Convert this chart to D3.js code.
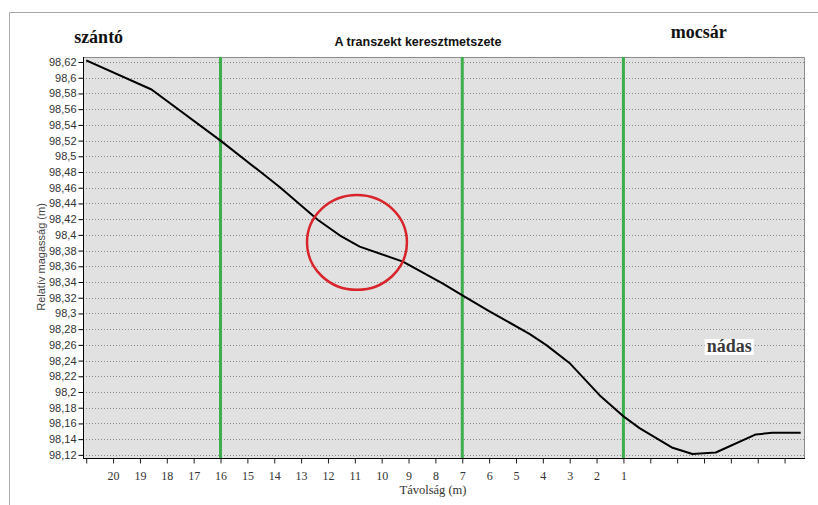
<!DOCTYPE html>
<html>
<head>
<meta charset="utf-8">
<script src="https://cdn.jsdelivr.net/npm/d3@7"></script>
<style>
  html, body { margin: 0; padding: 0; background: #fff; }
  svg { display: block; }
</style>
</head>
<body>
<svg id="chart" width="818" height="505"></svg>
<script>
// ---- Data ----
const distances = [21, 18.57, 16.0, 13.8, 12.37, 11.5, 10.82, 9.21, 7.72, 7.04, 6.05, 4.5, 3.88, 3.01, 1.89, 0.96, 0.4, -0.83, -1.57, -2.44, -3.93, -4.54, -5.6];
const heights   = [98.622, 98.585, 98.520, 98.461, 98.419, 98.398, 98.385, 98.366, 98.338, 98.324, 98.304, 98.274, 98.260, 98.237, 98.196, 98.168, 98.154, 98.129, 98.121, 98.123, 98.146, 98.148, 98.148];
const yTicks = [98.12, 98.14, 98.16, 98.18, 98.2, 98.22, 98.24, 98.26, 98.28, 98.3, 98.32, 98.34, 98.36, 98.38, 98.4, 98.42, 98.44, 98.46, 98.48, 98.5, 98.52, 98.54, 98.56, 98.58, 98.6, 98.62];
const xTicks = [21, 20, 19, 18, 17, 16, 15, 14, 13, 12, 11, 10, 9, 8, 7, 6, 5, 4, 3, 2, 1, 0, -1, -2, -3, -4, -5];
const xLabeled = [20, 19, 18, 17, 16, 15, 14, 13, 12, 11, 10, 9, 8, 7, 6, 5, 4, 3, 2, 1];
const markerLines = [16, 7, 1];
const highlight = { d: 10.92, v: 98.3904, rd: 1.86, rv: 0.0604 };
const title = "A transzekt keresztmetszete";
const yTitle = "Relatív magasság (m)";
const xTitle = "Távolság (m)";
const zoneLabels = [
  { text: "szántó", d: 21.45, v: 98.644 },
  { text: "mocsár", d: -0.76, v: 98.6505 },
  { text: "nádas", d: -2.1, v: 98.251 }
];

// ---- Layout ----
const svg = d3.select("#chart");
const L = 83, R = 805, T = 57, B = 458;

const x = d3.scaleLinear().domain([21.12, -5.76]).range([L, R]);
const y = d3.scaleLinear().domain([98.116, 98.6264]).range([B, T]);

// outer frame
svg.append("path").attr("d", `M9.5,505 V12.5 H818`).attr("fill", "none").attr("stroke", "#a8a8a8").attr("stroke-width", 1);

// plot background
svg.append("rect").attr("x", L).attr("y", T).attr("width", R - L).attr("height", B - T).attr("fill", "#e1e1e1");

// grid
svg.append("g").selectAll("line").data(yTicks).join("line")
  .attr("x1", L).attr("x2", R)
  .attr("y1", d => Math.round(y(d)) + 0.5).attr("y2", d => Math.round(y(d)) + 0.5)
  .attr("stroke", "#8a8a8a").attr("stroke-width", 1).attr("stroke-dasharray", "1,2");

// plot border top/right
svg.append("path").attr("d", `M${L},${T + 0.5} H${R - 0.5} V${B}`).attr("fill", "none").attr("stroke", "#8c8c8c");

// y axis
const fmt = v => String(Math.round(v * 100) / 100).replace(".", ",");
const yAxis = d3.axisLeft(y).tickValues(yTicks).tickFormat(fmt).tickSize(5).tickPadding(2);
const gy = svg.append("g").attr("transform", `translate(${L + 0.5},0)`).call(yAxis);
gy.select(".domain").attr("stroke", "#000").attr("d", `M0,${T}V${B}`);
gy.selectAll(".tick line").attr("stroke", "#000");
gy.selectAll(".tick text").attr("font-family", "Arial, 'Liberation Sans', sans-serif").attr("font-size", 11).attr("fill", "#333");

// x axis
const xAxis = d3.axisBottom(x).tickValues(xTicks)
  .tickFormat(d => xLabeled.includes(d) ? String(d) : "").tickSize(5).tickPadding(8);
const gx = svg.append("g").attr("transform", `translate(0,${B + 0.5})`).call(xAxis);
gx.select(".domain").attr("stroke", "#000").attr("d", `M${L},0H${R}`);
gx.selectAll(".tick line").attr("stroke", "#222");
gx.selectAll(".tick text").attr("font-family", "'Liberation Serif', 'Times New Roman', serif").attr("font-size", 12).attr("fill", "#333");

// green marker lines
svg.append("g").selectAll("line").data(markerLines).join("line")
  .attr("x1", d => x(d)).attr("x2", d => x(d))
  .attr("y1", T).attr("y2", B)
  .attr("stroke", "#3cae4c").attr("stroke-width", 3);

// profile line
const line = d3.line().x((d, i) => x(distances[i])).y((d, i) => y(heights[i])).curve(d3.curveLinear);
svg.append("path").datum(heights).attr("d", line)
  .attr("fill", "none").attr("stroke", "#000").attr("stroke-width", 2).attr("stroke-linejoin", "round");

// red circle
svg.append("ellipse")
  .attr("cx", x(highlight.d)).attr("cy", y(highlight.v))
  .attr("rx", Math.abs(x(highlight.d + highlight.rd) - x(highlight.d)))
  .attr("ry", Math.abs(y(highlight.v + highlight.rv) - y(highlight.v)))
  .attr("fill", "none").attr("stroke", "#d8242a").attr("stroke-width", 2.5);

// title
svg.append("text").attr("x", 418).attr("y", 46).attr("text-anchor", "middle")
  .attr("font-family", "Arial, 'Liberation Sans', sans-serif").attr("font-weight", "bold").attr("font-size", 12.5)
  .attr("fill", "#111").text(title);

// zone labels
const zl = svg.append("g").selectAll("g").data(zoneLabels).join("g");
zl.each(function(d) {
  const g = d3.select(this);
  const t = g.append("text").attr("x", x(d.d)).attr("y", y(d.v))
    .attr("font-family", "'Liberation Serif', 'Times New Roman', serif").attr("font-weight", "bold")
    .attr("font-size", 18).attr("fill", d.text === "nádas" ? "#3a3a3a" : "#111").text(d.text);
  if (d.text === "nádas") {
    const bb = t.node().getBBox();
    g.insert("rect", "text").attr("x", bb.x - 2).attr("y", bb.y + 3).attr("width", bb.width + 4).attr("height", bb.height - 4).attr("fill", "#fff");
  }
});

// axis titles
svg.append("text").attr("transform", "translate(45,257) rotate(-90)").attr("text-anchor", "middle")
  .attr("font-family", "Arial, 'Liberation Sans', sans-serif").attr("font-size", 11).attr("fill", "#444").text(yTitle);
svg.append("text").attr("x", 433).attr("y", 494).attr("text-anchor", "middle")
  .attr("font-family", "'Liberation Serif', 'Times New Roman', serif").attr("font-size", 12.5).attr("fill", "#333").text(xTitle);
</script>
</body>
</html>
